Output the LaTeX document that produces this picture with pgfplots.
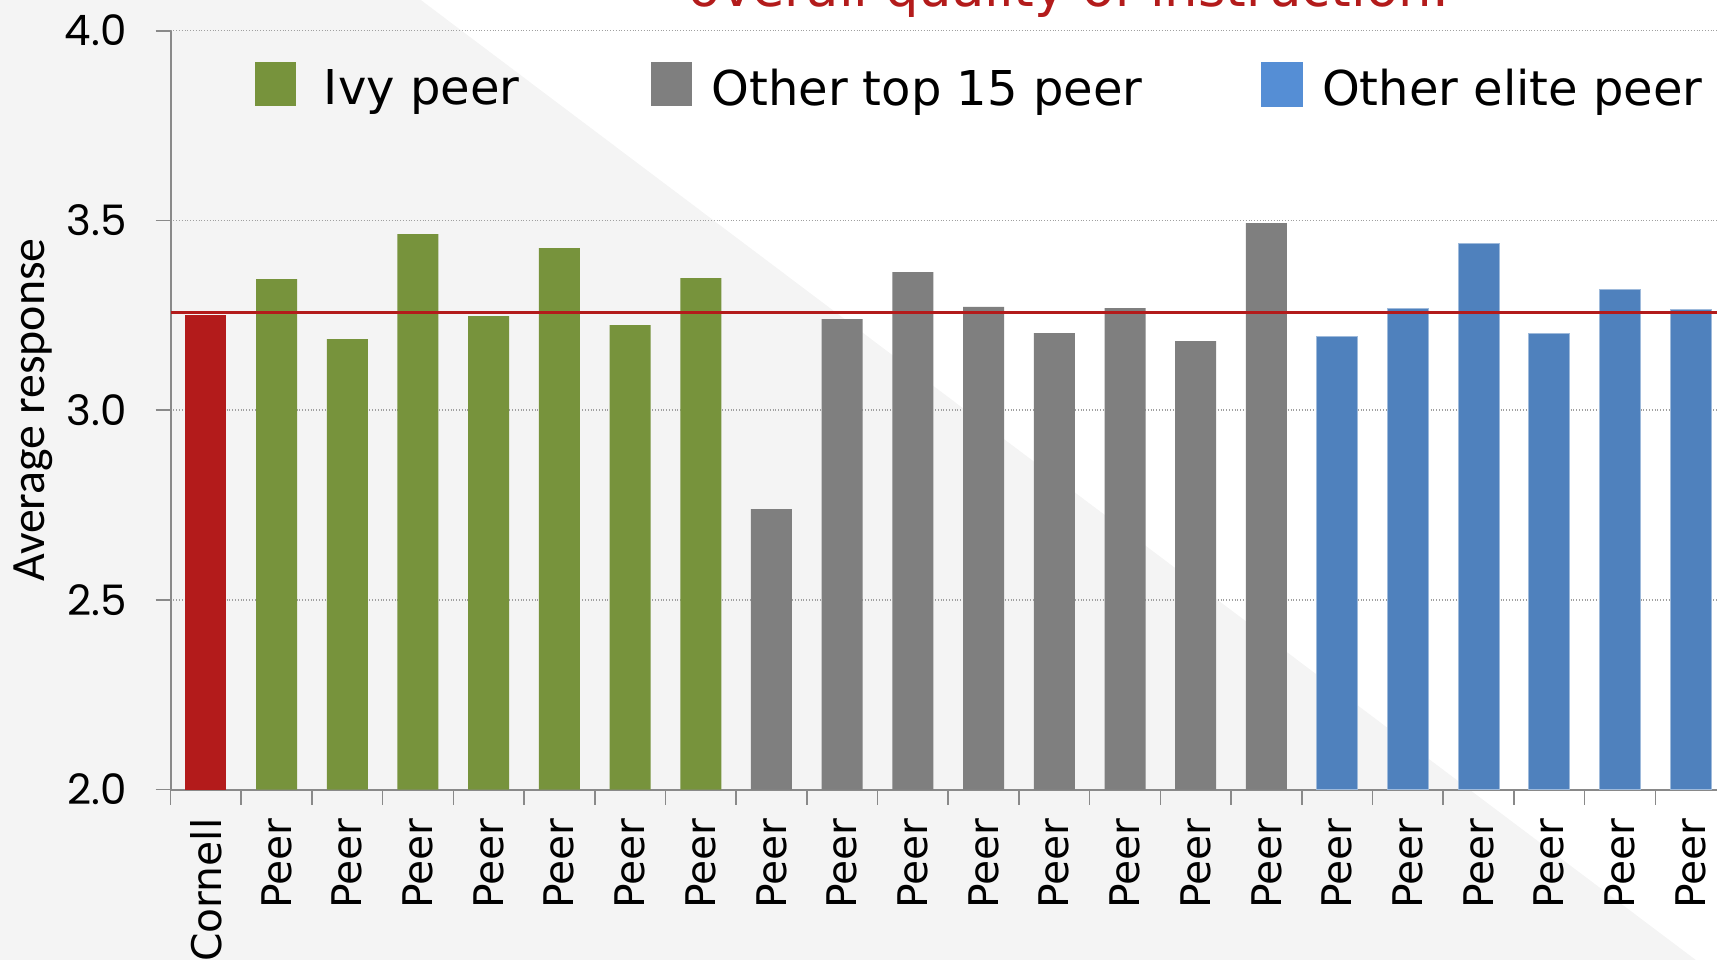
\documentclass[border=0pt]{standalone}
\usepackage{pgfplots}
\pgfplotsset{compat=1.18}
\usepackage{fontspec}
\setmainfont{DejaVu Sans}
\newfontfamily\poppins{Poppins}
\newfontfamily\carlito{Carlito}
\definecolor{cornellred}{HTML}{B31B1B}
\definecolor{ivygreen}{HTML}{77933C}
\definecolor{topgray}{HTML}{7F7F7F}
\definecolor{eliteblue}{HTML}{4F81BD}
\definecolor{legblue}{HTML}{558ED5}
\definecolor{bggray}{HTML}{F4F4F4}
\definecolor{axisgray}{HTML}{898989}
\definecolor{gridgray}{HTML}{A0A0A0}

\begin{document}
\begin{tikzpicture}
\useasboundingbox (0,0) rectangle (858.5pt,480pt);
\clip (0,0) rectangle (858.5pt,480pt);
\fill[bggray] (0,0) rectangle (858.5pt,480pt);
\fill[white] (210.5pt,480pt) -- (858.5pt,480pt) -- (858.5pt,0pt) -- (848pt,0pt) -- cycle;
\begin{axis}[
  at={(85.25pt,85.25pt)}, anchor=south west,
  scale only axis, width=777.75pt, height=379.4pt,
  xmin=-0.5, xmax=21.5, ymin=2, ymax=4,
  axis x line*=bottom, axis y line*=left,
  axis line style={draw=axisgray, line width=1pt},
  ytick={2,2.5,3,3.5,4}, yticklabels={2.0,2.5,3.0,3.5,4.0},
  yticklabel style={font=\poppins\fontsize{21}{21}\selectfont, inner sep=0pt},
  yticklabel shift=14.25pt,
  ymajorgrids, major grid style={densely dotted, draw=gridgray, line width=0.7pt},
  tick align=outside, major tick length=7.5pt,
  tick style={draw=axisgray, line width=0.8pt},
  xtick={-0.5,0.5,...,21.5}, x tick label as interval,
  xticklabels={Cornell,Peer,Peer,Peer,Peer,Peer,Peer,Peer,Peer,Peer,Peer,Peer,Peer,Peer,Peer,Peer,Peer,Peer,Peer,Peer,Peer,Peer},
  xticklabel style={rotate=90, anchor=east, inner sep=0pt, font=\fontsize{20.4}{20.4}\selectfont},
  xticklabel shift=6.8pt,
  ylabel={Average response},
  ylabel style={at={(axis description cs:-0.0885,0.5)}, anchor=center, font=\carlito\fontsize{23.9}{23.9}\selectfont},
  title={overall quality of instruction.},
  title style={at={(axis description cs:0.5775,1.0155)}, anchor=base, font=\fontsize{26.4}{26.4}\selectfont, text=cornellred},
  legend columns=3,
  legend cell align=left,
  legend style={draw=none, fill=none, inner sep=0pt, outer sep=0pt,
    at={(axis description cs:0.0543,0.9588)}, anchor=north west,
    font=\fontsize{24}{24}\selectfont,
    nodes={inner sep=0pt},
    /tikz/every odd column/.append style={column sep=9.5pt},
    /tikz/every even column/.append style={column sep=66pt}},
  legend image code/.code={\fill[#1] (0pt,-8.75pt) rectangle (20.5pt,13.25pt);},
]
\addplot[ybar, bar width=20.5pt, fill=cornellred, draw=none, forget plot]
  coordinates {(0,3.251)};
\addplot[ybar, bar width=20.5pt, fill=ivygreen, draw=none]
  coordinates {(1,3.345) (2,3.187) (3,3.464) (4,3.248) (5,3.427) (6,3.224) (7,3.348)};
\addlegendentry{\hspace{4.5pt}Ivy peer}
\addplot[ybar, bar width=20.5pt, fill=topgray, draw=none]
  coordinates {(8,2.739) (9,3.240) (10,3.364) (11,3.272) (12,3.203) (13,3.269) (14,3.182) (15,3.493)};
\addlegendentry{Other top 15 peer\kern-6.6pt}
\addplot[ybar, bar width=20.5pt, fill=eliteblue, draw=eliteblue!55!white, line width=0.4pt,
  legend image code/.code={\fill[legblue] (0pt,-8.75pt) rectangle (20.5pt,13.25pt);}]
  coordinates {(16,3.194) (17,3.267) (18,3.440) (19,3.202) (20,3.318) (21,3.266)};
\addlegendentry{Other elite peer}
\addplot[cornellred, line width=1.5pt, forget plot]
  coordinates {(-0.5,3.258) (21.5,3.258)};
\end{axis}
\end{tikzpicture}
\end{document}
